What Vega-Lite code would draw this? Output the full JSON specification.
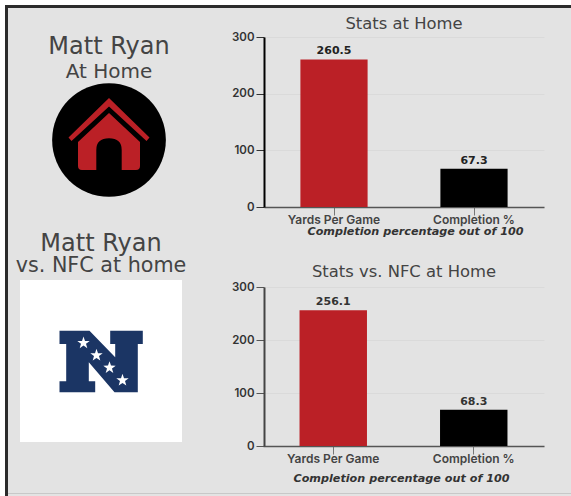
{
"$schema":"https://vega.github.io/schema/vega-lite/v6.json",
"padding":0,
"background":"#e3e3e3",
"spacing":0,
"bounds":"full",
"config":{"view":{"stroke":null},"concat":{"spacing":0},
 "axisY":{"grid":true,"gridColor":"#dadada","gridWidth":1,"tickSize":8,"tickCount":4,"labelFont":"Inter","labelFontWeight":600,"labelFontSize":11.5,"labelColor":"#333","labelPadding":2,"title":null},
 "axisX":{"grid":false,"tickSize":8,"labelFont":"Inter","labelFontWeight":600,"labelFontSize":12,"labelColor":"#444","labelAngle":0,"labelPadding":-1,"domainColor":"#555","domainWidth":1.5,"tickColor":"#777","titleFont":"DejaVu Sans","titleFontStyle":"italic","titleFontWeight":700,"titleFontSize":11.2,"titleColor":"#333","titleBaseline":"alphabetic"},
 "title":{"font":"DejaVu Sans","fontWeight":"normal","color":"#444"}},
"hconcat":[
 {"width":5,"height":496,"view":{"fill":"#ffffff"},"data":{"values":[]},"mark":"rect","encoding":{}},
 {"spacing":0,"bounds":"full","vconcat":[
  {"width":566,"height":5,"view":{"fill":"#ffffff"},"data":{"values":[]},"mark":"rect","encoding":{}},
  {"spacing":0,"bounds":"full","hconcat":[
   {"width":3,"height":491,"view":{"fill":"#2b2b2b"},"data":{"values":[]},"mark":"rect","encoding":{}},
   {"spacing":0,"bounds":"full","vconcat":[
    {"width":563,"height":3,"view":{"fill":"#2b2b2b"},"data":{"values":[]},"mark":"rect","encoding":{}},
    {"spacing":0,"bounds":"full","hconcat":[
     {"spacing":0,"bounds":"flush","vconcat":[
      {"width":223,"height":75,"view":{"fill":"transparent"},"data":{"values":[]},"mark":"rect","encoding":{}},
      {"width":202,"height":114,
       "title":{"text":"Matt Ryan","subtitle":"At Home","fontSize":24,"subtitleFont":"DejaVu Sans","subtitleFontSize":20,"subtitleColor":"#444","subtitlePadding":3,"offset":1,"anchor":"middle"},
       "data":{"values":[{"icon":"home"}]},
       "layer":[
        {"mark":{"type":"point","shape":"circle","size":12928,"filled":true,"color":"#000000","opacity":1},"encoding":{}},
        {"mark":{"type":"point","shape":"M0,-42 L40.5,-2.5 L37.5,1 L0,-33.5 L-37.5,1 L-40.5,-2.5 Z M0,-27 L31,2 L31,26 Q31,30 27,30 L12.7,30 L12.7,10 Q12.7,-1.7 0,-1.7 Q-12.7,-1.7 -12.7,10 L-12.7,30 L-27,30 Q-31,30 -31,26 L-31,2 Z","size":4,"filled":true,"color":"#bb2026","opacity":1},"encoding":{}}
       ]},
      {"width":223,"height":83,"view":{"fill":"transparent"},"data":{"values":[]},"mark":"rect","encoding":{}},
      {"width":186,"height":162,
       "title":{"text":"Matt Ryan","subtitle":"vs. NFC at home","fontSize":24,"subtitleFont":"DejaVu Sans","subtitleFontSize":20.7,"subtitleColor":"#444","subtitlePadding":0,"offset":4,"anchor":"middle"},
       "data":{"values":[{"icon":"nfc"}]},
       "layer":[
        {"mark":{"type":"point","shape":"square","size":26244,"filled":true,"color":"#ffffff","opacity":1},"encoding":{}},
        {"mark":{"type":"point","shape":"M-41.5,-30.3 L-11.5,-30.3 L14.2,-3.7 L14.2,-17 L9.2,-17 L9.2,-30.3 L41.8,-30.3 L41.8,-17 L36.8,-17 L36.8,31.3 L13.5,31.3 L-12.2,1.3 L-12.2,20.3 L-5.8,20.3 L-5.8,31.3 L-41.5,31.3 L-41.5,20.3 L-34.8,20.3 L-34.8,-17 L-41.5,-17 Z","size":4,"filled":true,"color":"#1b3564","opacity":1},"encoding":{}},
        {"mark":{"type":"point","shape":"M-17.5,-24.5 l1.5,4.4 l4.7,0.1 l-3.7,2.8 l1.3,4.5 l-3.8,-2.7 l-3.8,2.7 l1.3,-4.5 l-3.7,-2.8 l4.7,-0.1 Z M-4.5,-12.2 l1.5,4.4 l4.7,0.1 l-3.7,2.8 l1.3,4.5 l-3.8,-2.7 l-3.8,2.7 l1.3,-4.5 l-3.7,-2.8 l4.7,-0.1 Z M8.5,0.2 l1.5,4.4 l4.7,0.1 l-3.7,2.8 l1.3,4.5 l-3.8,-2.7 l-3.8,2.7 l1.3,-4.5 l-3.7,-2.8 l4.7,-0.1 Z M21.5,12.8 l1.5,4.4 l4.7,0.1 l-3.7,2.8 l1.3,4.5 l-3.8,-2.7 l-3.8,2.7 l1.3,-4.5 l-3.7,-2.8 l4.7,-0.1 Z","size":4,"filled":true,"color":"#ffffff","opacity":1},"encoding":{}}
       ]},
      {"width":223,"height":51,"view":{"fill":"transparent"},"data":{"values":[]},"mark":"rect","encoding":{}}
     ]},
     {"spacing":0,"bounds":"flush","vconcat":[
      {"width":280,"height":29,"view":{"fill":"transparent"},"data":{"values":[]},"mark":"rect","encoding":{}},
      {"width":280,"height":170,
       "title":{"text":"Stats at Home","fontSize":16.4,"offset":-1,"anchor":"middle"},
       "data":{"values":[{"stat":"Yards Per Game","value":260.5},{"stat":"Completion %","value":67.3}]},
       "encoding":{
        "x":{"field":"stat","type":"nominal","sort":null,"scale":{"paddingInner":0.52,"paddingOuter":0.26},"axis":{"title":"Completion percentage out of 100","titleX":151,"titleY":27}},
        "y":{"field":"value","type":"quantitative","scale":{"domain":[0,300]},"axis":{"values":[0,100,200,300],"domainColor":"#000000","domainWidth":2,"tickColor":"#333"}}
       },
       "layer":[
        {"mark":{"type":"bar"},"encoding":{"color":{"field":"stat","type":"nominal","sort":null,"scale":{"range":["#bb2026","#000000"]},"legend":null}}},
        {"mark":{"type":"text","font":"DejaVu Sans","fontWeight":"bold","fontSize":11,"dy":-8,"color":"#222"},"encoding":{"text":{"field":"value","type":"quantitative","format":".1f"}}}
       ]},
      {"width":280,"height":80,"view":{"fill":"transparent"},"data":{"values":[]},"mark":"rect","encoding":{}},
      {"width":280,"height":159,
       "title":{"text":"Stats vs. NFC at Home","fontSize":16.4,"offset":1,"anchor":"middle"},
       "data":{"values":[{"stat":"Yards Per Game","value":256.1},{"stat":"Completion %","value":68.3}]},
       "encoding":{
        "x":{"field":"stat","type":"nominal","sort":null,"scale":{"range":[-1,280],"paddingInner":0.52,"paddingOuter":0.26},"axis":{"title":"Completion percentage out of 100","titleX":137,"titleY":35}},
        "y":{"field":"value","type":"quantitative","scale":{"domain":[0,300]},"axis":{"values":[0,100,200,300],"domainColor":"#444","domainWidth":2,"tickColor":"#555"}}
       },
       "layer":[
        {"mark":{"type":"bar"},"encoding":{"color":{"field":"stat","type":"nominal","sort":null,"scale":{"range":["#bb2026","#000000"]},"legend":null}}},
        {"mark":{"type":"text","font":"DejaVu Sans","fontWeight":"bold","fontSize":11,"dy":-8,"color":"#333"},"encoding":{"text":{"field":"value","type":"quantitative","format":".1f"}}}
       ]},
      {"width":280,"height":47,"view":{"fill":"transparent"},"data":{"values":[]},"mark":"rect","encoding":{}}
     ]}
    ]},
    {"width":563,"height":1,"view":{"fill":"#c8c8c8"},"data":{"values":[]},"mark":"rect","encoding":{}},
    {"width":563,"height":2,"view":{"fill":"transparent"},"data":{"values":[]},"mark":"rect","encoding":{}}
   ]}
  ]}
 ]}
]
}
